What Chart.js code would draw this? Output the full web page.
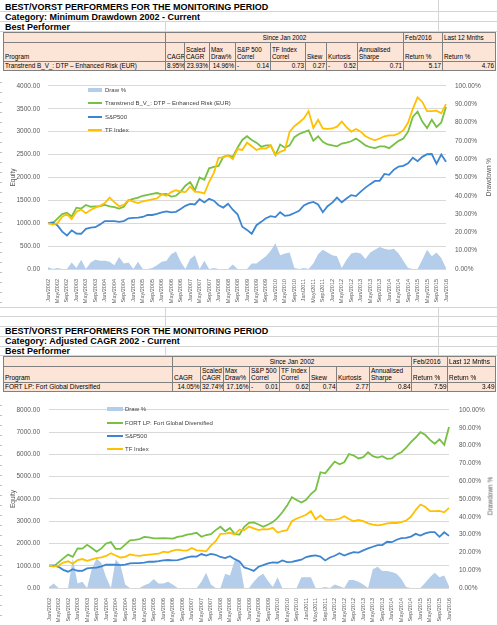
<!DOCTYPE html>
<html lang="en">
<head>
<meta charset="UTF-8">
<title>Best/Worst Performers</title>
<script src="https://cdn.jsdelivr.net/npm/chart.js@4.4.1/dist/chart.umd.min.js"></script>
<style>
  body { margin:0; width:497px; height:625px; position:relative; overflow:hidden; background:#fff;
         font-family:"Liberation Sans", Arial, sans-serif; color:#000; }
  .hd { position:absolute; left:5px; font-weight:bold; font-size:9px; line-height:10px; white-space:nowrap; }
  .gl { position:absolute; background:#d4d4d4; }
  .strip { position:absolute; left:0; width:2px;
           background:repeating-linear-gradient(to bottom, transparent 0, transparent 9px, #bfbfbf 9px, #bfbfbf 10px); }
  table.perf { position:absolute; left:3px; border-collapse:collapse; table-layout:fixed; font-size:6.3px; background:#fce4d6; }
  table.perf td { border:1px solid #808080; padding:0 1px 1px 1px; vertical-align:bottom; white-space:nowrap; overflow:hidden; line-height:7px; }
  table.perf td.c { text-align:center; }
  table.perf td.r { text-align:right; }
  table.t2 { font-size:6.5px; }
  table.t2 td.r { padding-right:0.5px; }
  .neg { display:flex; justify-content:space-between; }
  canvas { position:absolute; left:0; }
  .lg { position:absolute; font-size:6px; line-height:8px; color:#404040; white-space:nowrap; }
  .sym { position:absolute; }
  .rt { position:absolute; font-size:6.5px; color:#595959; white-space:nowrap; transform:translate(-50%,-50%) rotate(-90deg); }
</style>
</head>
<body>

<!-- spreadsheet grid behind headings -->
<div class="gl" style="left:0;top:11px;width:497px;height:1px"></div>
<div class="gl" style="left:0;top:21px;width:497px;height:1px"></div>
<div class="gl" style="left:0;top:31px;width:497px;height:1px"></div>
<div class="gl" style="left:438px;top:0;width:1px;height:31px"></div>
<div class="gl" style="left:165px;top:22px;width:1px;height:10px"></div>
<div class="gl" style="left:0;top:307px;width:497px;height:1px"></div>
<div class="gl" style="left:0;top:316px;width:497px;height:1px"></div>
<div class="gl" style="left:0;top:326px;width:497px;height:1px"></div>
<div class="gl" style="left:0;top:336px;width:497px;height:1px"></div>
<div class="gl" style="left:0;top:346px;width:497px;height:1px"></div>
<div class="gl" style="left:0;top:355px;width:497px;height:1px"></div>
<div class="gl" style="left:438px;top:307px;width:1px;height:48px"></div>
<div class="gl" style="left:165px;top:307px;width:1px;height:19px"></div>
<div class="gl" style="left:165px;top:346px;width:1px;height:9px"></div>
<div class="strip" style="top:73px;height:234px"></div>
<div class="strip" style="top:396px;height:229px"></div>

<!-- section 1 -->
<div class="hd" style="top:2px">BEST/VORST PERFORMERS FOR THE MONITORING PERIOD</div>
<div class="hd" style="top:12px">Category: Minimum Drawdown 2002 - Current</div>
<div class="hd" style="top:22px">Best Performer</div>

<table class="perf" style="top:32px;width:492px">
  <colgroup>
    <col style="width:162px"><col style="width:19px"><col style="width:25px"><col style="width:26px">
    <col style="width:35px"><col style="width:35px"><col style="width:21px"><col style="width:31px">
    <col style="width:46px"><col style="width:39px"><col style="width:53px">
  </colgroup>
  <tr style="height:10px"><td></td><td class="c" colspan="8">Since Jan 2002</td><td>Feb/2016</td><td>Last 12 Mnths</td></tr>
  <tr style="height:19px"><td>Program</td><td>CAGR</td><td>Scaled<br>CAGR</td><td>Max<br>Draw%</td><td>S&amp;P 500<br>Correl</td><td>TF Index<br>Correl</td><td>Skew</td><td>Kurtosis</td><td>Annualised<br>Sharpe</td><td>Return %</td><td>Return %</td></tr>
  <tr style="height:8px"><td>Transtrend B_V_: DTP – Enhanced Risk (EUR)</td><td class="r">8.95%</td><td class="r">23.93%</td><td class="r">14.96%</td><td><div class="neg"><span>-</span><span>0.14</span></div></td><td class="r">0.73</td><td class="r">0.27</td><td><div class="neg"><span>-</span><span>0.52</span></div></td><td class="r">0.71</td><td class="r">5.17</td><td class="r">4.76</td></tr>
</table>

<canvas id="chart1" width="497" height="234" style="top:73px"></canvas>
<div class="sym" style="left:88px;top:88px;width:14px;height:4px;background:#b4cdea"></div>
<div class="lg" style="left:105px;top:86px">Draw %</div>
<div class="sym" style="left:88px;top:102px;width:14px;height:2px;background:#76c043"></div>
<div class="lg" style="left:105px;top:99px">Transtrend B_V_: DTP – Enhanced Risk (EUR)</div>
<div class="sym" style="left:88px;top:115.5px;width:14px;height:2px;background:#3d85d1"></div>
<div class="lg" style="left:105px;top:112.5px">S&amp;P500</div>
<div class="sym" style="left:88px;top:129px;width:14px;height:2px;background:#ffc000"></div>
<div class="lg" style="left:105px;top:126px">TF Index</div>
<div class="rt" style="left:488px;top:177px">Drawdown %</div>

<!-- section 2 -->
<div class="hd" style="top:326px">BEST/VORST PERFORMERS FOR THE MONITORING PERIOD</div>
<div class="hd" style="top:336px">Category: Adjusted CAGR 2002 - Current</div>
<div class="hd" style="top:346px">Best Performer</div>

<table class="perf t2" style="top:356px;width:492px">
  <colgroup>
    <col style="width:169px"><col style="width:28px"><col style="width:23px"><col style="width:26px">
    <col style="width:30px"><col style="width:30px"><col style="width:27px"><col style="width:33px">
    <col style="width:42px"><col style="width:36px"><col style="width:48px">
  </colgroup>
  <tr style="height:10px"><td></td><td class="c" colspan="8">Since Jan 2002</td><td>Feb/2016</td><td>Last 12 Mnths</td></tr>
  <tr style="height:16px"><td>Program</td><td>CAGR</td><td>Scaled<br>CAGR</td><td>Max<br>Draw%</td><td>S&amp;P 500<br>Correl</td><td>TF Index<br>Correl</td><td>Skew</td><td>Kurtosis</td><td>Annualised<br>Sharpe</td><td>Return %</td><td>Return %</td></tr>
  <tr style="height:8px"><td>FORT LP: Fort Global Diversified</td><td class="r">14.05%</td><td class="r">32.74%</td><td class="r">17.16%</td><td><div class="neg"><span>-</span><span>0.01</span></div></td><td class="r">0.62</td><td class="r">0.74</td><td class="r">2.77</td><td class="r">0.84</td><td class="r">7.59</td><td class="r">3.49</td></tr>
</table>

<canvas id="chart2" width="497" height="229" style="top:396px"></canvas>
<div class="sym" style="left:107px;top:407px;width:16px;height:4px;background:#b4cdea"></div>
<div class="lg" style="left:125px;top:405px">Draw %</div>
<div class="sym" style="left:107px;top:421.5px;width:16px;height:2px;background:#76c043"></div>
<div class="lg" style="left:125px;top:418.5px">FORT LP: Fort Global Diversified</div>
<div class="sym" style="left:107px;top:435px;width:16px;height:2px;background:#3d85d1"></div>
<div class="lg" style="left:125px;top:432px">S&amp;P500</div>
<div class="sym" style="left:107px;top:448px;width:16px;height:2px;background:#ffc000"></div>
<div class="lg" style="left:125px;top:445px">TF Index</div>
<div class="rt" style="left:490px;top:496px">Drawdown %</div>

<script>
// two-monthly samples, Jan 2002 - Jan 2016
const LABELS = [
  'Jan/2002','Mar/2002','May/2002','Jul/2002','Sep/2002','Nov/2002',
  'Jan/2003','Mar/2003','May/2003','Jul/2003','Sep/2003','Nov/2003',
  'Jan/2004','Mar/2004','May/2004','Jul/2004','Sep/2004','Nov/2004',
  'Jan/2005','Mar/2005','May/2005','Jul/2005','Sep/2005','Nov/2005',
  'Jan/2006','Mar/2006','May/2006','Jul/2006','Sep/2006','Nov/2006',
  'Jan/2007','Mar/2007','May/2007','Jul/2007','Sep/2007','Nov/2007',
  'Jan/2008','Mar/2008','May/2008','Jul/2008','Sep/2008','Nov/2008',
  'Jan/2009','Mar/2009','May/2009','Jul/2009','Sep/2009','Nov/2009',
  'Jan/2010','Mar/2010','May/2010','Jul/2010','Sep/2010','Nov/2010',
  'Jan/2011','Mar/2011','May/2011','Jul/2011','Sep/2011','Nov/2011',
  'Jan/2012','Mar/2012','May/2012','Jul/2012','Sep/2012','Nov/2012',
  'Jan/2013','Mar/2013','May/2013','Jul/2013','Sep/2013','Nov/2013',
  'Jan/2014','Mar/2014','May/2014','Jul/2014','Sep/2014','Nov/2014',
  'Jan/2015','Mar/2015','May/2015','Jul/2015','Sep/2015','Nov/2015',
  'Jan/2016'
];

const SP500 = [
  1000, 1019, 951, 816, 732, 844,
  774, 770, 879, 905, 914, 975,
  1046, 1045, 1045, 1031, 1047, 1107,
  1117, 1121, 1136, 1180, 1180, 1204,
  1238, 1257, 1238, 1249, 1311, 1380,
  1422, 1410, 1524, 1455, 1532, 1492,
  1393, 1342, 1426, 1295, 1195, 923,
  854, 770, 956, 1030, 1108, 1153,
  1134, 1240, 1160, 1177, 1224, 1271,
  1390, 1437, 1464, 1411, 1240, 1372,
  1449, 1561, 1457, 1540, 1614, 1593,
  1692, 1778, 1854, 1925, 1927, 2077,
  2058, 2169, 2238, 2254, 2310, 2432,
  2355, 2450, 2507, 2512, 2300, 2502,
  2341
];

const TF_INDEX = [
  1000, 970, 1000, 1140, 1200, 1090,
  1250, 1300, 1220, 1290, 1340, 1380,
  1440, 1560, 1460, 1370, 1400, 1510,
  1470, 1440, 1480, 1500, 1520, 1540,
  1630, 1600, 1680, 1720, 1690, 1680,
  1800, 1690, 1680, 1650, 1900, 2100,
  2430, 2440, 2480, 2400, 2620, 2600,
  2760, 2680, 2600, 2640, 2630, 2700,
  2490, 2560, 2600, 3000, 3120, 3200,
  3290, 3450, 3080, 3260, 3070, 3060,
  3070, 3110, 3220, 3100, 3000, 3060,
  3000, 2900, 2850, 2810, 2850, 2900,
  2920, 2920, 2960, 3030, 3200, 3500,
  3750, 3650, 3450, 3450, 3460, 3400,
  3600
];

const TRANSTREND = [
  1000, 1000, 1100, 1200, 1230, 1150,
  1340, 1320, 1400, 1360, 1370, 1375,
  1400, 1370, 1350, 1320, 1360, 1500,
  1530, 1560, 1600, 1620, 1640, 1660,
  1630, 1640, 1580, 1600, 1690, 1820,
  1900, 1720, 2000, 1950, 2200, 2230,
  2250, 2450, 2480, 2450, 2650, 2820,
  2900, 2820, 2760, 2670, 2700, 2700,
  2490, 2720, 2650, 2700, 2880, 2950,
  2990, 3030, 2800, 2900, 2780, 2720,
  2700, 2680, 2740, 2760, 2790, 2850,
  2780, 2700, 2660, 2640, 2680, 2680,
  2640, 2720, 2800, 2850, 3000, 3320,
  3440, 3220, 3080, 3260, 3100, 3200,
  3540
];

const DRAW_TRANSTREND = [
  1, 0, 0.5, 0, 0, 3.5,
  0.5, 5, 0, 3.5, 5, 4.5,
  4.5, 4, 2, 6.5, 3, 3.5,
  0, 4, 0, 0, 0.5, 2,
  4, 4.5, 8, 9.5, 4, 0,
  5.5, 7.5, 0, 4.5, 0, 0.5,
  0, 0, 0, 2.5, 0, 0,
  0, 3, 3, 5, 7, 10,
  14, 7.5, 8.5, 9, 0.5, 0,
  0.5, 0, 3, 8, 10.5, 9,
  7.5, 7, 0.5, 5, 8.5, 9,
  8.5, 5.5, 9, 10.5, 12, 11,
  10.5, 11, 8.5, 4.5, 0.5, 0,
  0, 5, 10.5, 7, 9, 6,
  0.5
];

const FORT = [
  1000, 970, 1150, 1330, 1500, 1400,
  1780, 1770, 1940, 1800, 1630, 1780,
  2000, 2060, 1760, 1760, 1950, 2140,
  2160, 2200, 2290, 2270, 2230, 2230,
  2240, 2230, 2220, 2300, 2330, 2400,
  2430, 2480, 2300, 2380, 2420, 2600,
  2750, 2550, 2700, 2420, 2400, 2750,
  2930, 2950, 2850, 2750, 2850, 2960,
  3150, 3400, 3700, 4080, 3950, 3840,
  3960, 4220, 4400, 5200, 5150, 5420,
  5680, 5560, 5650, 6020, 5950, 5820,
  5880, 6100, 5920, 5860, 5920, 5800,
  5820, 6000, 6100, 6300, 6550, 6760,
  7000, 6880, 6650, 6480, 6680, 6430,
  7230
];

const DRAW_FORT = [
  0.5, 2.5, 0, 0, 0, 16.5,
  2.5, 3.5, 0, 11, 16.5, 14,
  6, 0, 16, 13, 2, 0,
  0, 0, 1.5, 2.5, 5, 2.5,
  2.5, 3.5, 2, 0, 0, 0,
  0, 0, 3.5, 8.5, 2, 0,
  0, 8, 7, 15.5, 15, 0,
  0, 3.5, 6.5, 8, 4, 0.5,
  6, 0, 0, 0, 0, 6,
  6, 6, 0, 0, 0.5, 0,
  2, 1, 0, 4.5, 4.5, 3.5,
  2, 0, 10.5, 12, 9.5, 9.5,
  9, 8, 5, 0.5, 0, 0,
  0, 3, 6, 8.5, 6, 7,
  1
];

const GREY = '#595959';

function makeChart(id, cfg) {
  return new Chart(document.getElementById(id), {
    type: 'line',
    data: {
      labels: LABELS,
      datasets: [
        { label: 'Draw %', data: cfg.draw, yAxisID: 'y2', fill: 'origin', backgroundColor: '#b4cdea',
          borderWidth: 0, pointRadius: 0, order: 4 },
        { label: cfg.name, data: cfg.program, yAxisID: 'y', borderColor: '#76c043', borderWidth: 1.8, pointRadius: 0, order: 3 },
        { label: 'S&P500', data: SP500, yAxisID: 'y', borderColor: '#3d85d1', borderWidth: 1.8, pointRadius: 0, order: 2 },
        { label: 'TF Index', data: TF_INDEX, yAxisID: 'y', borderColor: '#ffc000', borderWidth: 1.8, pointRadius: 0, order: 1 }
      ]
    },
    options: {
      responsive: false,
      animation: false,
      layout: { padding: { top: cfg.top, left: 0, right: 0, bottom: 0 } },
      plugins: { legend: { display: false }, tooltip: { enabled: false } },
      elements: { line: { tension: 0 } },
      scales: {
        x: {
          offset: false,
          grid: { display: false },
          border: { display: false },
          ticks: {
            autoSkip: false, maxRotation: 90, minRotation: 90, padding: 2,
            font: { size: 5.5 }, color: GREY,
            callback: (v, i) => (i % 2 === 0 ? LABELS[i] : '')
          },
          afterFit: s => { s.height = cfg.xh; }
        },
        y: {
          position: 'left', min: 0, max: cfg.max,
          grid: { color: '#d9d9d9', drawTicks: false },
          border: { display: false },
          ticks: { stepSize: cfg.step, padding: cfg.lpad, font: { size: 6.5 }, color: GREY,
                   callback: v => v.toFixed(2) },
          title: { display: true, text: 'Equity', font: { size: 6.5 }, color: GREY, padding: { top: 9, bottom: 0 } },
          afterFit: s => { s.width = cfg.left; }
        },
        y2: {
          position: 'right', min: 0, max: 100,
          grid: { drawOnChartArea: false, drawTicks: false },
          border: { display: false },
          ticks: { stepSize: 10, padding: cfg.rpad, font: { size: 6.5 }, color: GREY,
                   callback: v => v.toFixed(2) + '%' },
          afterFit: s => { s.width = cfg.right; }
        }
      }
    }
  });
}

makeChart('chart1', { name: 'Transtrend B_V_: DTP – Enhanced Risk (EUR)', program: TRANSTREND, draw: DRAW_TRANSTREND,
  top: 12.7, xh: 38, left: 48, right: 51, max: 4000, step: 500, lpad: 8, rpad: 9 });
makeChart('chart2', { name: 'FORT LP: Fort Global Diversified', program: FORT, draw: DRAW_FORT,
  top: 8.3, xh: 37, left: 49, right: 48, max: 8000, step: 1000, lpad: 9, rpad: 10 });
</script>
</body>
</html>
